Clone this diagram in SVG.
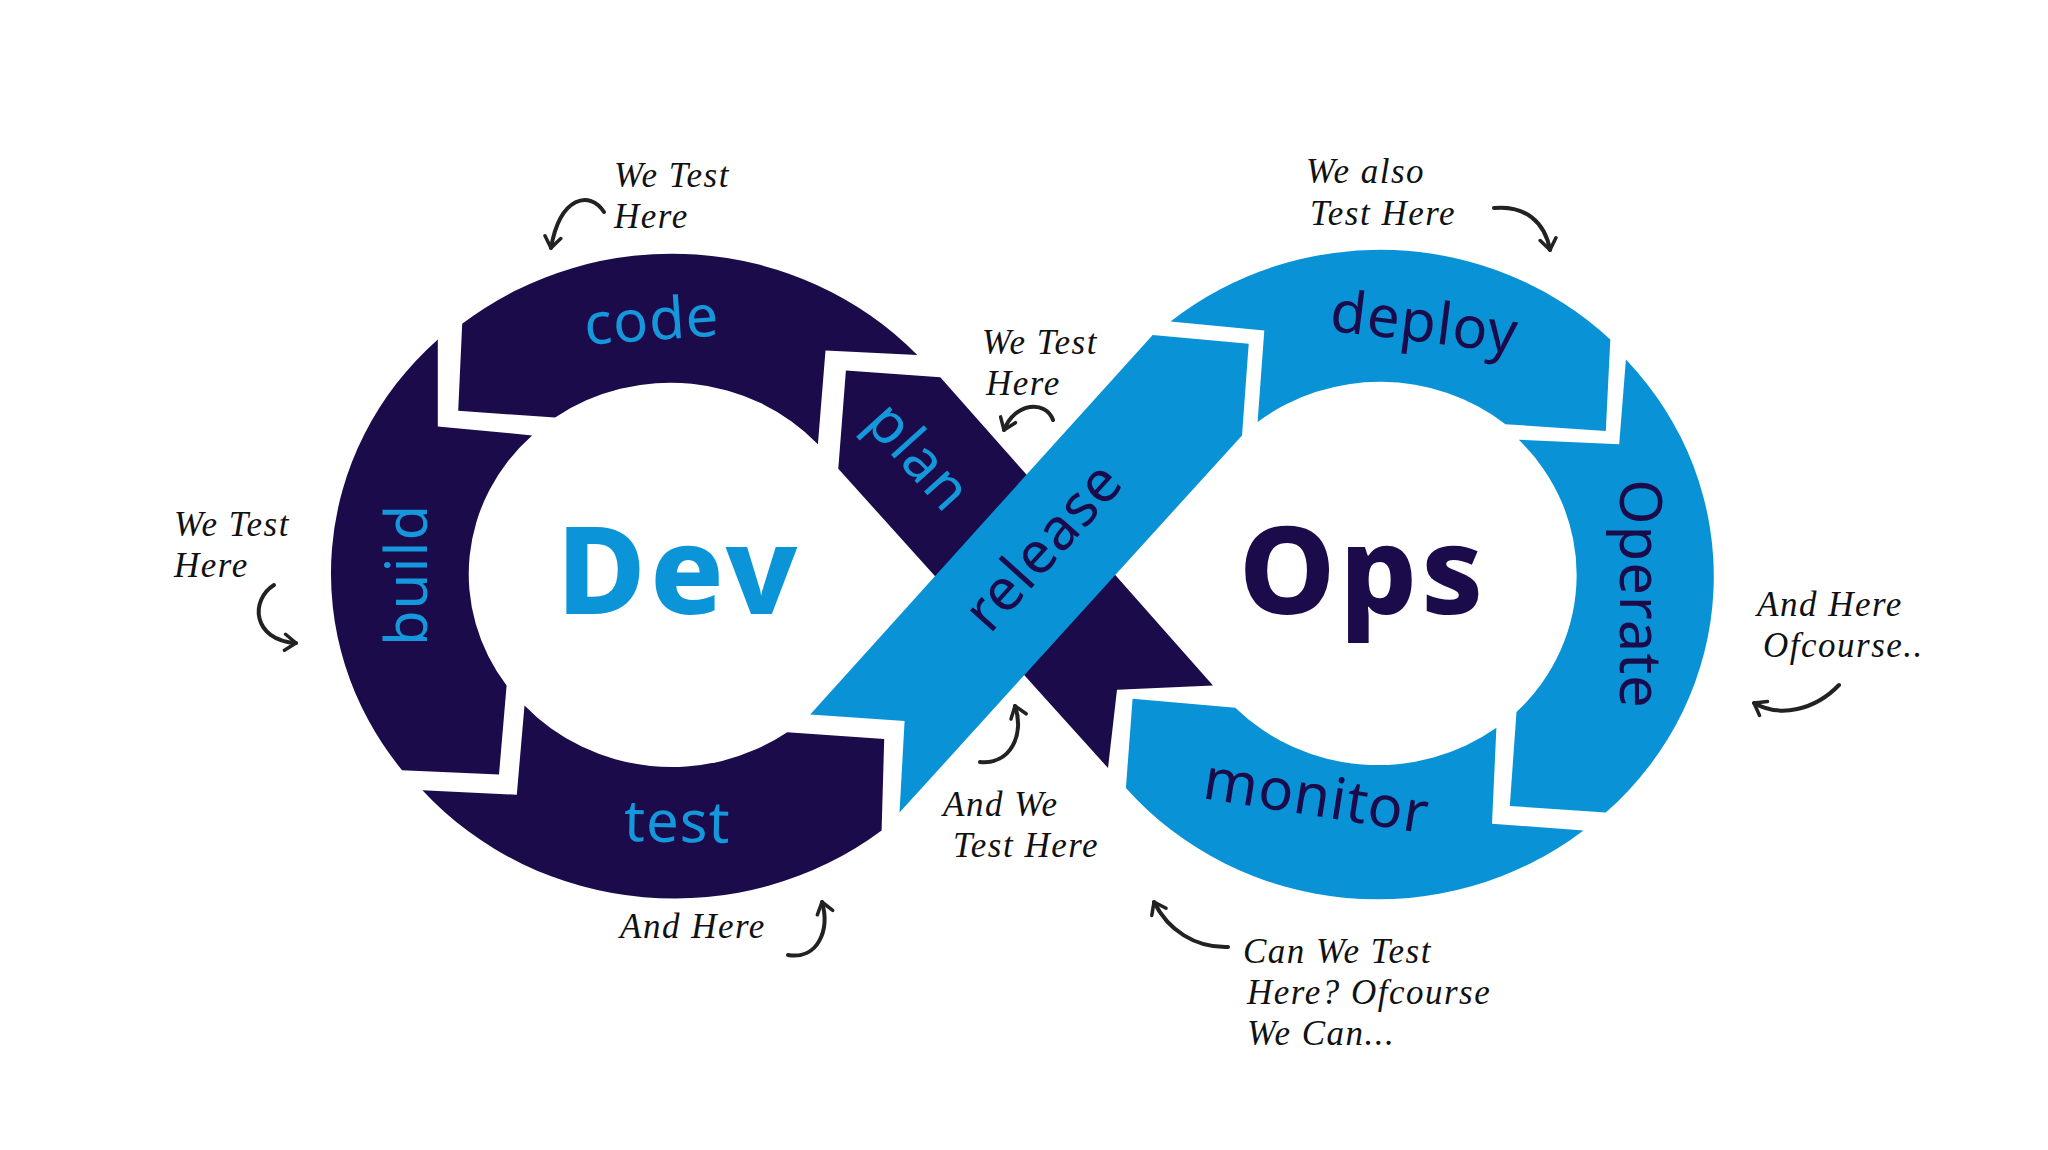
<svg xmlns="http://www.w3.org/2000/svg" width="2048" height="1150" viewBox="0 0 2048 1150">
  <style>
    .dark { fill: #1b0b4a; }
    .light { fill: #0993d6; }
    .lbl { font-family: "Noto Sans", "Open Sans", sans-serif; font-size: 58px; text-anchor: middle; letter-spacing: 1px; }
    .lbl-l { fill: #1597db; }
    .lbl-d { fill: #1b0b4a; }
    .big { font-family: "Noto Sans", "Open Sans", sans-serif; font-weight: 800; font-size: 122px; text-anchor: middle; letter-spacing: 4px; }
    .note { font-family: "Liberation Serif", "DejaVu Serif", serif; font-style: italic; font-size: 35px; letter-spacing: 1.5px; fill: #111; }
    .arr { fill: none; stroke: #222; stroke-width: 4; stroke-linecap: round; marker-end: url(#ah); }
  </style>
  <defs>
    <marker id="ah" viewBox="-14 -10 16 20" refX="0" refY="0" markerWidth="16" markerHeight="20" markerUnits="userSpaceOnUse" orient="auto">
      <path d="M -11,-8 L 0,0 L -11,8" fill="none" stroke="#222" stroke-width="3.5" stroke-linecap="round" stroke-linejoin="round"/>
    </marker>
  </defs>
  <rect width="2048" height="1150" fill="#ffffff"/>

  <!-- Dev ring -->
  <g id="node-code">
    <path class="dark" d="M 462.2,323.8 A 336 320 0 0 1 917.3,355 L 825.5,350.5 L 817.9,444.3 A 200 190 0 0 0 555.1,417.5 L 458.2,410.8 Z"/>
    <text class="lbl lbl-l" transform="translate(653,340) rotate(-4)" x="0" y="0">code</text>
  </g>
  <g id="node-build">
    <path class="dark" d="M 437.8,339.4 A 336 320 0 0 0 402,770.2 L 499,774.6 L 506.6,685.4 A 200 190 0 0 1 532.1,435.4 L 437.8,426.4 Z"/>
    <text class="lbl lbl-l" transform="translate(407,575) rotate(-90)" x="0" y="20">build</text>
  </g>
  <g id="node-test">
    <path class="dark" d="M 422.4,790.3 A 336 320 0 0 0 881.6,830.4 L 884.2,738.9 L 787.2,732.2 A 200 190 0 0 1 524.5,705.4 L 516.8,794.7 Z"/>
    <text class="lbl lbl-l" transform="translate(677,842) rotate(1)" x="0" y="0">test</text>
  </g>
  <g id="node-plan">
    <path class="dark" d="M 845.9,370.6 L 940.3,377.3 L 1213,685.4 L 1117,689.8 L 1108,768 L 838.3,468.8 Z"/>
    <text class="lbl lbl-l" transform="translate(917,458) rotate(48)" x="0" y="17">plan</text>
  </g>
  <g id="node-release">
    <path class="light" d="M 1152.7,334.9 L 1248.7,343.8 L 1242,435.4 L 899.5,812.6 L 904.6,721 L 810.2,714.4 Z"/>
    <text class="lbl lbl-d" transform="translate(1045,548) rotate(-48)" x="0" y="17">release</text>
  </g>

  <!-- Ops ring -->
  <g id="node-deploy">
    <path class="light" d="M 1170.5,321.5 A 332 320 0 0 1 1610.3,339.4 L 1605.8,430.9 L 1505.4,424.2 A 200 192 0 0 0 1257.6,422 L 1264.3,330.4 Z"/>
    <text class="lbl lbl-d" transform="translate(1424,326) rotate(7)" x="0" y="16">deploy</text>
  </g>
  <g id="node-operate">
    <path class="light" d="M 1625.9,359.5 A 332 320 0 0 1 1605.8,812.6 L 1509.8,805.9 L 1516.5,712.1 A 200 192 0 0 0 1518.8,439.8 L 1619.2,444.3 Z"/>
    <text class="lbl lbl-d" transform="translate(1640,594) rotate(90)" x="0" y="20">Operate</text>
  </g>
  <g id="node-monitor">
    <path class="light" d="M 1583.5,830.4 A 332 320 0 0 1 1125.9,788 L 1132.6,698.8 L 1235.3,707.7 A 200 192 0 0 0 1496.4,727.8 L 1492,823.8 Z"/>
    <text class="lbl lbl-d" transform="translate(1316,800) rotate(9)" x="0" y="16">monitor</text>
  </g>

  <g id="node-dev">
    <text class="big" x="679" y="614" fill="#0b95d8">Dev</text>
  </g>
  <g id="node-ops">
    <text class="big" x="1363" y="614" fill="#1b0b4a">Ops</text>
  </g>

  <!-- annotations -->
  <g id="note-code">
    <text class="note" x="614" y="187">We Test</text>
    <text class="note" x="614" y="228">Here</text>
  </g>
  <g id="note-build">
    <text class="note" x="174" y="536">We Test</text>
    <text class="note" x="174" y="577">Here</text>
  </g>
  <g id="note-deploy">
    <text class="note" x="1306" y="183">We also</text>
    <text class="note" x="1310" y="225">Test Here</text>
  </g>
  <g id="note-plan">
    <text class="note" x="982" y="354">We Test</text>
    <text class="note" x="986" y="395">Here</text>
  </g>
  <g id="note-release">
    <text class="note" x="943" y="816">And We</text>
    <text class="note" x="953" y="857">Test Here</text>
  </g>
  <g id="note-test">
    <text class="note" x="620" y="938">And Here</text>
  </g>
  <g id="note-operate">
    <text class="note" x="1757" y="616">And Here</text>
    <text class="note" x="1763" y="657">Ofcourse..</text>
  </g>
  <g id="note-monitor">
    <text class="note" x="1243" y="963">Can We Test</text>
    <text class="note" x="1247" y="1004">Here? Ofcourse</text>
    <text class="note" x="1247" y="1045">We Can...</text>
  </g>

  <g id="connectors">
    <path class="arr" d="M 604,212 C 590,190 560,196 551,248"/>
    <path class="arr" d="M 274,585 C 250,600 252,640 296,643"/>
    <path class="arr" d="M 1494,208 C 1525,205 1545,222 1550,250"/>
    <path class="arr" d="M 1053,420 C 1046,400 1015,402 1004,430"/>
    <path class="arr" d="M 980,762 C 1010,765 1025,735 1015,706"/>
    <path class="arr" d="M 788,955 C 818,960 830,930 822,902"/>
    <path class="arr" d="M 1839,685 C 1815,710 1780,718 1754,703"/>
    <path class="arr" d="M 1228,947 C 1195,948 1168,930 1154,902"/>
  </g>
</svg>
